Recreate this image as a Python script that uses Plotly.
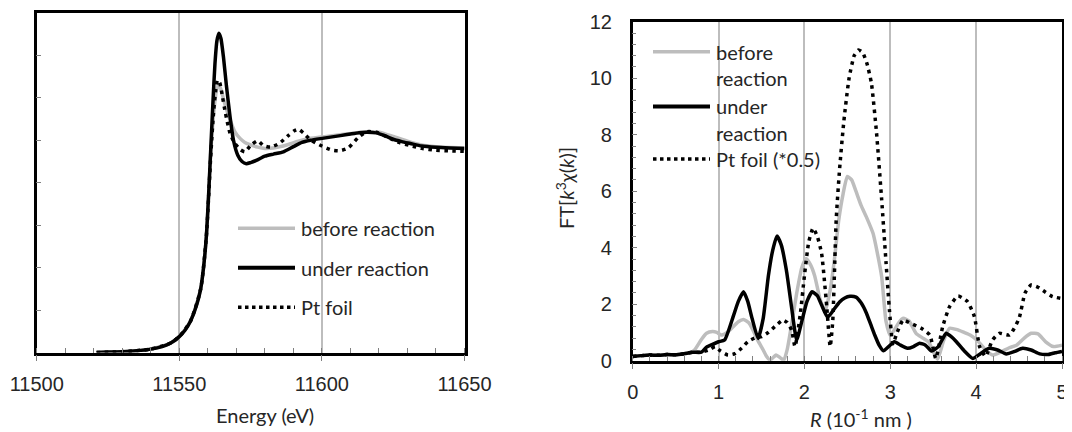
import plotly.graph_objects as go

# ---------------- Left panel: XANES ----------------
under_E = [11521, 11525, 11530, 11535, 11540, 11544, 11547, 11550, 11552, 11554, 11556, 11557.5, 11558.5,
           11559.5, 11560.3, 11561.1, 11561.8, 11562.5, 11563.2, 11563.9, 11564.6, 11565.5, 11566.5, 11567.8,
           11569, 11570.5, 11572, 11573.5, 11575, 11577, 11580, 11583, 11586.5, 11590, 11593, 11596, 11599.5,
           11603, 11606.5, 11610, 11613, 11616, 11619, 11622, 11625, 11628, 11631, 11635, 11640, 11645, 11650]
under_mu = [0.0, 0.002, 0.004, 0.008, 0.016, 0.028, 0.045, 0.075, 0.105, 0.15, 0.22, 0.30, 0.40,
            0.55, 0.75, 0.98, 1.18, 1.36, 1.47, 1.505, 1.48, 1.39, 1.26, 1.11,
            1.0, 0.93, 0.9, 0.89, 0.895, 0.905, 0.925, 0.935, 0.946, 0.97, 0.99, 1.0, 1.008,
            1.015, 1.022, 1.03, 1.036, 1.038, 1.035, 1.022, 1.005, 0.994, 0.985, 0.973, 0.967, 0.964, 0.962]

before_E = [11521, 11530, 11540, 11547, 11550, 11554, 11557.5, 11559.5, 11561.1, 11562.3, 11563.1, 11563.8,
            11564.6, 11566, 11567.8, 11569.5, 11571.3, 11573, 11575, 11577.5, 11580, 11583, 11586, 11589,
            11592, 11595, 11599, 11603, 11607, 11612, 11616, 11620, 11625, 11630, 11635, 11640, 11645, 11650]
before_mu = [0.0, 0.004, 0.016, 0.045, 0.075, 0.15, 0.30, 0.55, 0.96, 1.16, 1.24, 1.262,
             1.24, 1.17, 1.096, 1.04, 1.009, 0.99, 0.978, 0.968, 0.962, 0.964, 0.972, 0.984,
             0.997, 1.007, 1.014, 1.02, 1.027, 1.035, 1.04, 1.038, 1.018, 0.996, 0.978, 0.97, 0.966, 0.965]

foil_E = [11521, 11530, 11540, 11547, 11550, 11554, 11557.5, 11559.5, 11561, 11562, 11562.8, 11563.4,
          11564.2, 11565.2, 11566.2, 11567.8, 11569.5, 11571.5, 11573, 11575.2, 11577.5, 11579.5, 11582,
          11585, 11588, 11590.3, 11591.8, 11593.5, 11596, 11600, 11603.5, 11606.3, 11609.3, 11612.8,
          11615.7, 11619, 11623, 11627, 11631, 11635, 11640, 11645, 11650]
foil_mu = [0.0, 0.004, 0.016, 0.045, 0.075, 0.15, 0.30, 0.55, 0.92, 1.13, 1.24, 1.284,
           1.27, 1.2, 1.127, 1.033, 0.985, 0.955, 0.946, 0.978, 0.998, 0.975, 0.968,
           0.985, 1.02, 1.045, 1.052, 1.035, 1.002, 0.973, 0.954, 0.951, 0.965, 1.014,
           1.04, 1.038, 1.015, 0.99, 0.975, 0.962, 0.953, 0.95, 0.948]

# ---------------- Right panel: FT-EXAFS ----------------
under_R = [0, 0.1, 0.2, 0.3, 0.4, 0.5, 0.6, 0.7, 0.8, 0.86, 0.93, 1.0, 1.07, 1.17, 1.23, 1.29, 1.34, 1.39,
           1.46, 1.52, 1.58, 1.63, 1.68, 1.73, 1.79, 1.85, 1.91, 1.97, 2.03, 2.09, 2.15, 2.2, 2.27, 2.34,
           2.41, 2.47, 2.53, 2.6, 2.66, 2.72, 2.77, 2.82, 2.87, 2.92, 2.98, 3.05, 3.12, 3.2, 3.27, 3.34,
           3.41, 3.48, 3.56, 3.65, 3.71, 3.77, 3.86, 3.96, 4.05, 4.15, 4.25, 4.35, 4.45, 4.54, 4.64, 4.74,
           4.84, 4.92, 5.0]
under_FT = [0.15, 0.18, 0.2, 0.19, 0.22, 0.21, 0.25, 0.3, 0.3, 0.48, 0.58, 0.67, 0.73, 1.56, 2.1, 2.44, 2.1, 1.5,
            0.79, 1.5, 3.0, 3.9, 4.41, 4.1, 3.2, 1.9, 0.73, 1.4, 2.1, 2.44, 2.3, 1.97, 1.54, 1.8,
            2.08, 2.22, 2.28, 2.25, 2.05, 1.7, 1.3, 0.9, 0.55, 0.35, 0.5, 0.67, 0.55, 0.44, 0.5, 0.62,
            0.55, 0.34, 0.5, 0.97, 0.85, 0.67, 0.35, 0.08, 0.25, 0.44, 0.38, 0.24, 0.33, 0.44, 0.38, 0.24,
            0.22, 0.28, 0.33]

before_R = [0, 0.1, 0.2, 0.3, 0.4, 0.5, 0.6, 0.67, 0.72, 0.8, 0.86, 0.93, 0.98, 1.03, 1.1, 1.17, 1.23, 1.29,
            1.35, 1.4, 1.46, 1.52, 1.56, 1.6, 1.67, 1.72, 1.76, 1.8, 1.84, 1.91, 1.97, 2.02, 2.07, 2.12,
            2.18, 2.24, 2.3, 2.35, 2.4, 2.45, 2.5, 2.55, 2.6, 2.66, 2.72, 2.8, 2.85, 2.9, 2.95, 3.0, 3.05,
            3.1, 3.15, 3.22, 3.3, 3.38, 3.45, 3.5, 3.55, 3.62, 3.69, 3.78, 3.86, 3.93, 4.0, 4.06, 4.12,
            4.19, 4.28, 4.38, 4.47, 4.56, 4.64, 4.72, 4.81, 4.9, 5.0]
before_FT = [0.15, 0.18, 0.2, 0.19, 0.22, 0.21, 0.25, 0.28, 0.38, 0.75, 0.97, 1.03, 1.0, 0.91, 1.0, 1.2, 1.38, 1.46,
             1.35, 1.09, 0.7, 0.38, 0.15, 0.02, 0.2, 0.1, 0.02, 0.4, 1.09, 2.39, 3.3, 3.62, 3.4, 3.0,
             2.2, 1.75, 2.5, 3.6, 4.98, 5.9, 6.52, 6.4, 6.0, 5.5, 5.1, 4.5, 3.8, 2.97, 1.4, 0.9, 1.1,
             1.35, 1.5, 1.4, 0.97, 0.8, 0.65, 0.32, 0.05, 0.7, 1.15, 1.1, 1.0, 0.91, 0.75, 0.56, 0.35,
             0.2, 0.3, 0.45, 0.55, 0.8, 0.97, 0.95, 0.67, 0.5, 0.55]

foil_R = [0, 0.1, 0.2, 0.3, 0.4, 0.5, 0.6, 0.7, 0.8, 0.9, 0.96, 1.02, 1.11, 1.19, 1.27, 1.34, 1.42, 1.5, 1.58,
          1.67, 1.75, 1.8, 1.85, 1.89, 1.95, 2.0, 2.05, 2.1, 2.15, 2.2, 2.26, 2.3, 2.33, 2.37, 2.41, 2.46,
          2.52, 2.58, 2.63, 2.68, 2.73, 2.78, 2.84, 2.9, 2.95, 2.99, 3.03, 3.08, 3.15, 3.24, 3.36, 3.46,
          3.53, 3.61, 3.69, 3.79, 3.9, 3.98, 4.04, 4.11, 4.19, 4.27, 4.39, 4.5, 4.57, 4.64, 4.72, 4.8,
          4.89, 5.0]
foil_FT = [0.15, 0.18, 0.2, 0.19, 0.22, 0.21, 0.25, 0.3, 0.3, 0.4, 0.5, 0.35, 0.2, 0.25, 0.45, 0.67, 0.8, 0.85, 1.0,
           1.25, 1.44, 1.35, 1.09, 0.5, 1.6, 3.0, 4.2, 4.69, 4.4, 3.8, 1.91, 0.5, 1.4, 4.98, 6.8, 8.5,
           10.0, 10.8, 11.0, 10.9, 10.5, 9.83, 8.06, 5.69, 3.5, 1.8, 0.6, 1.0, 1.44, 1.32, 1.15, 0.91,
           0.08, 1.2, 1.91, 2.29, 2.09, 1.56, 0.5, 0.15, 0.73, 0.97, 0.91, 1.5, 2.4, 2.68, 2.6, 2.44,
           2.27, 2.2]

left_legend = ["before reaction", "under reaction", "Pt foil"]
right_legend = [["before", "reaction"], ["under", "reaction"], ["Pt foil (*0.5)"]]

OFF = 8  # page body margin in the browser
W, H = 1072 - OFF, 432 - OFF
GRAY = "#bdbdbd"
DOT = "3.5px,4.5px"


def px(x):
    return (x - OFF) / W


def py(y):
    return 1 - (y - OFF) / H


fig = go.Figure()
# left traces
fig.add_trace(go.Scatter(x=before_E, y=before_mu, mode="lines", line=dict(color=GRAY, width=3.5, shape="spline", smoothing=0.6),
                         xaxis="x", yaxis="y", showlegend=False))
fig.add_trace(go.Scatter(x=foil_E, y=foil_mu, mode="lines", line=dict(color="black", width=3.5, dash=DOT, shape="spline", smoothing=0.6),
                         xaxis="x", yaxis="y", showlegend=False))
fig.add_trace(go.Scatter(x=under_E, y=under_mu, mode="lines", line=dict(color="black", width=3.5, shape="spline", smoothing=0.6),
                         xaxis="x", yaxis="y", showlegend=False))
# right traces
fig.add_trace(go.Scatter(x=before_R, y=before_FT, mode="lines", line=dict(color=GRAY, width=3.5, shape="spline", smoothing=0.5),
                         xaxis="x2", yaxis="y2", showlegend=False))
fig.add_trace(go.Scatter(x=foil_R, y=foil_FT, mode="lines", line=dict(color="black", width=3.5, dash=DOT, shape="spline", smoothing=0.5),
                         xaxis="x2", yaxis="y2", showlegend=False))
fig.add_trace(go.Scatter(x=under_R, y=under_FT, mode="lines", line=dict(color="black", width=3.5, shape="spline", smoothing=0.5),
                         xaxis="x2", yaxis="y2", showlegend=False))

TICKFONT = dict(family="Liberation Sans", size=20, color="#262626")
common_x = dict(showline=True, linecolor="black", linewidth=2.5, mirror=True, zeroline=False,
                ticks="outside", ticklen=6, tickwidth=1, tickcolor="#808080", automargin=False,
                showgrid=True, gridcolor=GRAY, gridwidth=1.5, tickfont=TICKFONT, ticklabelstandoff=6)

fig.update_layout(
    width=W, height=H, margin=dict(l=0, r=0, t=0, b=0, pad=0, autoexpand=False),
    paper_bgcolor="white", plot_bgcolor="white", showlegend=False,
    xaxis=dict(domain=[px(36.7), px(464.5)], range=[11500, 11650], tick0=11500, dtick=50, tickformat="d",
               minor=dict(dtick=10, ticks="inside", ticklen=5, tickcolor="#808080", showgrid=False),
               anchor="y", **common_x),
    yaxis=dict(domain=[py(352.5), py(13)], range=[0, 1.6], dtick=0.2, showticklabels=False,
               showline=True, linecolor="black", linewidth=2.5, mirror=True, zeroline=False, automargin=False,
               ticks="inside", ticklen=5, tickcolor="#808080", showgrid=False, anchor="x"),
    xaxis2=dict(domain=[px(632.7), px(1062)], range=[0, 5], tick0=0, dtick=1,
                minor=dict(dtick=0.2, ticks="inside", ticklen=5, tickcolor="#808080", showgrid=False),
                anchor="y2", **common_x),
    yaxis2=dict(domain=[py(360.7), py(21.7)], range=[0, 12], dtick=2,
                showline=True, linecolor="black", linewidth=2.5, mirror=True, zeroline=False, automargin=False,
                ticks="inside", ticklen=5, tickcolor="#808080", showgrid=False,
                minor=dict(dtick=0.4, ticks="inside", ticklen=4, tickcolor="#808080"),
                tickfont=TICKFONT, ticklabelstandoff=14, anchor="x2"),
)

# legend backgrounds (hide gridlines behind legends)
fig.add_shape(type="rect", xref="paper", yref="paper", x0=px(232), x1=px(445), y0=py(330), y1=py(206),
              fillcolor="white", line=dict(width=0), layer="between")
fig.add_shape(type="rect", xref="paper", yref="paper", x0=px(640), x1=px(830), y0=py(203), y1=py(28),
              fillcolor="white", line=dict(width=0), layer="between")

LEGFONT = dict(family="Lato", size=20, color="#262626")
styles = [dict(color=GRAY, width=3.5), dict(color="black", width=4), dict(color="black", width=3.5, dash="dot")]

# left legend
for i, (label, yy) in enumerate(zip(left_legend, [228.3, 267.7, 307.3])):
    fig.add_shape(type="line", xref="paper", yref="paper", x0=px(238), x1=px(295), y0=py(yy), y1=py(yy),
                  line=styles[i], layer="above")
    fig.add_annotation(text=label, xref="paper", yref="paper", x=px(299), y=py(yy), xanchor="left",
                       yanchor="middle", showarrow=False, font=LEGFONT)

# right legend
row_y = [[51.7, 78.5], [106.5, 132.5], [159]]
for i, (lines, ys) in enumerate(zip(right_legend, row_y)):
    fig.add_shape(type="line", xref="paper", yref="paper", x0=px(653), x1=px(710), y0=py(ys[0]), y1=py(ys[0]),
                  line=styles[i], layer="above")
    for t, yy in zip(lines, ys):
        fig.add_annotation(text=t, xref="paper", yref="paper", x=px(714), y=py(yy), xanchor="left",
                           yanchor="middle", showarrow=False, font=LEGFONT)

TITLEFONT = dict(family="Lato", size=20, color="#262626")
fig.add_annotation(text="Energy (eV)", xref="paper", yref="paper", x=px(265), y=py(415),
                   xanchor="center", yanchor="middle", showarrow=False, font=TITLEFONT)
fig.add_annotation(text="<i>R</i> (10<sup>-1</sup> nm )", xref="paper", yref="paper", x=px(861), y=py(418),
                   xanchor="center", yanchor="middle", showarrow=False, font=TITLEFONT)
fig.add_annotation(text="FT[<i>k</i><sup>3</sup><i>χ</i>(<i>k</i>)]", xref="paper", yref="paper", x=px(565), y=py(188),
                   xanchor="center", yanchor="middle", textangle=-90, showarrow=False, font=TITLEFONT)

fig.write_html("out.html")
